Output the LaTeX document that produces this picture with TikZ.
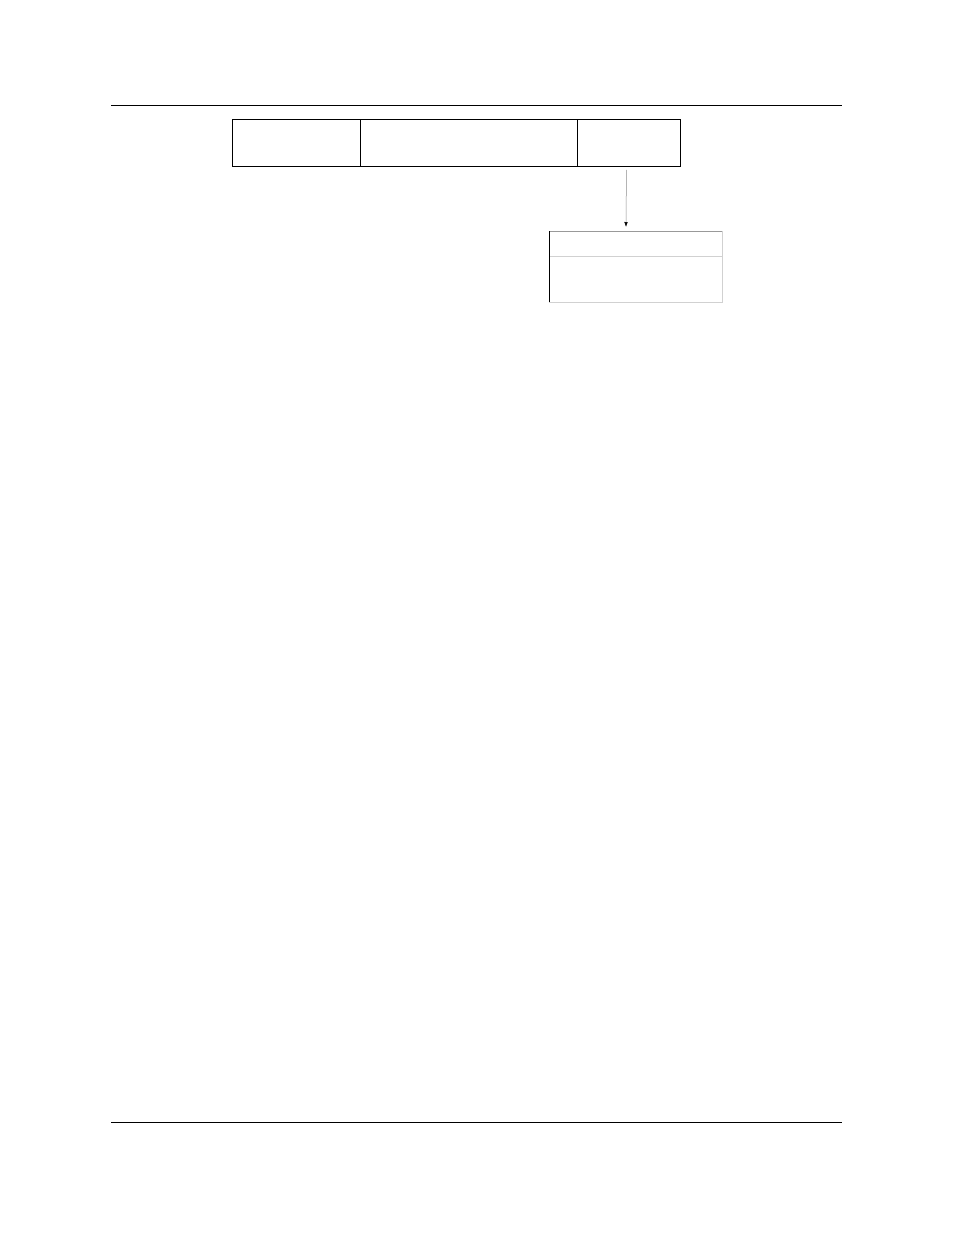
\documentclass[tikz,border=0pt]{standalone}
\usetikzlibrary{arrows.meta}
\begin{document}
\begin{tikzpicture}[x=1pt,y=-1pt,
  cell/.style={draw=black,line width=0.9pt,rectangle,inner sep=0pt,minimum height=47pt,anchor=north west},
  rulel/.style={line width=0.8pt,black},
  faint/.style={draw=black!18,line width=0.8pt},
  link/.style={draw=black!45,line width=0.5pt,-{Latex[length=5pt,width=3.5pt,black]}}]
\useasboundingbox (0,0) rectangle (954,1235);
\draw[rulel] (111,105) -- (842,105);
\draw[rulel] (111,1122) -- (842,1122);
\node[cell,minimum width=128pt] (c1) at (232,119) {};
\node[cell,minimum width=217pt] (c2) at (360,119) {};
\node[cell,minimum width=103pt] (c3) at (577,119) {};
\node[inner sep=0pt,minimum width=173pt,minimum height=71pt,anchor=north west] (lb) at (549,231) {};
\draw[faint] (lb.north east) -- (lb.south east) -- (lb.south west);
\draw[draw=black!40,line width=0.8pt] (lb.north west) -- (lb.north east);
\draw[faint] (549,256) -- (722,256);
\draw[black,line width=0.9pt] (lb.north west) -- (lb.south west);
\draw[link] ([xshift=-2.5pt,yshift=-3pt]c3.south) -- ([xshift=77pt,yshift=4pt]lb.north west);
\end{tikzpicture}
\end{document}
